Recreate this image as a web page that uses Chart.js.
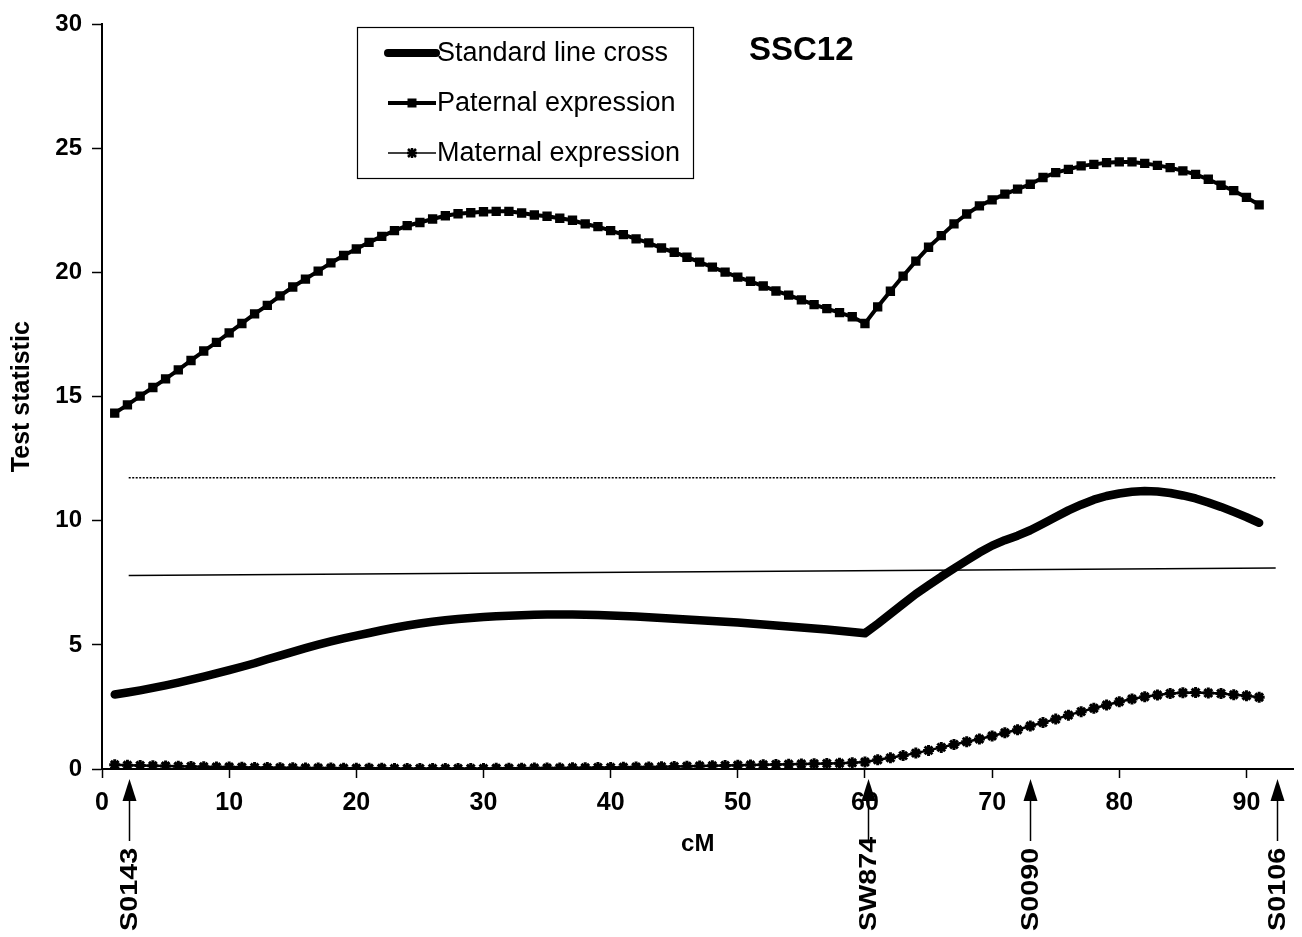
<!DOCTYPE html>
<html>
<head>
<meta charset="utf-8">
<script src="https://cdn.jsdelivr.net/npm/chart.js@4.4.1/dist/chart.umd.min.js"></script>
<style>
  html, body { margin: 0; padding: 0; background: #fff; }
  canvas { display: block; }
</style>
</head>
<body>
<canvas id="qtl" width="1302" height="937"></canvas>
<script>
// positions along the chromosome (cM)
var cM = [1,2,3,4,5,6,7,8,9,10,11,12,13,14,15,16,17,18,19,20,
  21,22,23,24,25,26,27,28,29,30,31,32,33,34,35,36,37,38,39,40,
  41,42,43,44,45,46,47,48,49,50,51,52,53,54,55,56,57,58,59,60,
  61,62,63,64,65,66,67,68,69,70,71,72,73,74,75,76,77,78,79,80,
  81,82,83,84,85,86,87,88,89,90,91];

var standardLineCross = [3.00,3.08,3.17,3.27,3.37,3.48,3.60,3.72,3.85,3.98,
  4.12,4.26,4.42,4.57,4.72,4.87,5.01,5.14,5.26,5.37,
  5.48,5.59,5.69,5.78,5.86,5.93,5.99,6.04,6.08,6.12,
  6.15,6.17,6.19,6.21,6.22,6.22,6.22,6.21,6.20,6.18,
  6.16,6.14,6.11,6.08,6.05,6.02,5.99,5.96,5.93,5.90,
  5.86,5.82,5.78,5.74,5.70,5.66,5.62,5.57,5.52,5.47,
  5.85,6.25,6.65,7.05,7.40,7.75,8.08,8.40,8.72,9.00,
  9.22,9.40,9.62,9.88,10.15,10.42,10.65,10.85,11.00,11.10,
  11.17,11.20,11.18,11.12,11.02,10.90,10.74,10.56,10.36,10.15,9.92];

var paternal = [14.34,14.67,15.02,15.37,15.72,16.08,16.46,16.84,17.19,17.57,
  17.95,18.34,18.68,19.06,19.42,19.74,20.06,20.39,20.69,20.95,
  21.22,21.46,21.69,21.89,22.02,22.16,22.29,22.37,22.41,22.45,
  22.47,22.47,22.40,22.32,22.27,22.19,22.11,21.96,21.85,21.69,
  21.53,21.36,21.20,20.99,20.82,20.62,20.42,20.22,20.02,19.82,
  19.65,19.46,19.26,19.09,18.90,18.71,18.55,18.39,18.22,17.95,
  18.62,19.25,19.86,20.46,21.02,21.49,21.96,22.36,22.69,22.93,
  23.16,23.36,23.56,23.83,24.03,24.16,24.30,24.36,24.43,24.46,
  24.46,24.40,24.32,24.23,24.10,23.96,23.76,23.52,23.30,23.03,22.73];

var maternal = [0.17,0.15,0.14,0.13,0.12,0.11,0.10,0.09,0.08,0.08,
  0.07,0.06,0.06,0.05,0.05,0.04,0.04,0.04,0.03,0.03,
  0.03,0.03,0.02,0.02,0.02,0.02,0.02,0.02,0.02,0.02,
  0.03,0.03,0.03,0.04,0.04,0.04,0.05,0.05,0.06,0.06,
  0.07,0.08,0.08,0.09,0.10,0.11,0.12,0.13,0.14,0.15,
  0.16,0.17,0.18,0.19,0.20,0.21,0.22,0.23,0.25,0.28,
  0.37,0.45,0.54,0.64,0.75,0.87,0.99,1.10,1.21,1.33,
  1.46,1.58,1.73,1.87,2.01,2.17,2.31,2.45,2.58,2.71,
  2.82,2.91,2.98,3.04,3.07,3.08,3.06,3.04,2.99,2.95,2.89];

// significance thresholds, from first to last marker
var thresholdX = [2.1, 92.3];
var threshold5 = [7.8, 8.1];
var threshold1 = [11.73, 11.73];

// markers on the chromosome
var markerNames = ["S0143", "SW874", "S0090", "S0106"];
var markerPos = [2.1, 60.2, 73.0, 92.4];

var xTicks = [0, 10, 20, 30, 40, 50, 60, 70, 80, 90];
var yTicks = [0, 5, 10, 15, 20, 25, 30];

var legendLabels = ["Standard line cross", "Paternal expression", "Maternal expression"];
var chartTitle = "SSC12";

var FONT = "'Liberation Sans', Arial, Helvetica, sans-serif";

function pts(xs, ys) {
  return xs.map(function (x, i) { return { x: x, y: ys[i] }; });
}

// legend, title and marker arrows
var extras = {
  id: "extras",
  afterDraw: function (chart) {
    var ctx = chart.ctx;
    var xs = chart.scales.x;
    ctx.save();

    // legend box
    ctx.strokeStyle = "#000";
    ctx.lineWidth = 1.2;
    ctx.strokeRect(357.5, 27.5, 336, 151);
    var rows = [53, 103, 153];
    var x0 = 388, x1 = 436;
    ctx.lineCap = "round";
    ctx.lineWidth = 8;
    ctx.beginPath(); ctx.moveTo(x0, rows[0]); ctx.lineTo(x1, rows[0]); ctx.stroke();
    ctx.lineCap = "butt";
    ctx.lineWidth = 4;
    ctx.beginPath(); ctx.moveTo(x0, rows[1]); ctx.lineTo(x1, rows[1]); ctx.stroke();
    ctx.fillStyle = "#000";
    ctx.fillRect((x0 + x1) / 2 - 4.5, rows[1] - 4.5, 9, 9);
    ctx.lineWidth = 1.5;
    ctx.beginPath(); ctx.moveTo(x0, rows[2]); ctx.lineTo(x1, rows[2]); ctx.stroke();
    var cx = (x0 + x1) / 2, cy = rows[2];
    ctx.lineWidth = 2.5;
    ctx.beginPath();
    ctx.moveTo(cx - 4, cy - 4); ctx.lineTo(cx + 4, cy + 4);
    ctx.moveTo(cx - 4, cy + 4); ctx.lineTo(cx + 4, cy - 4);
    ctx.moveTo(cx, cy - 5); ctx.lineTo(cx, cy + 5);
    ctx.moveTo(cx - 5, cy); ctx.lineTo(cx + 5, cy);
    ctx.stroke();

    ctx.font = "27px " + FONT;
    ctx.textBaseline = "middle";
    ctx.textAlign = "left";
    legendLabels.forEach(function (t, i) { ctx.fillText(t, x1 + 1, rows[i] + 1); });

    ctx.font = "bold 33px " + FONT;
    ctx.fillText(chartTitle, 749, 51);

    // marker arrows below the x axis
    markerNames.forEach(function (name, i) {
      var px = Math.round(xs.getPixelForValue(markerPos[i])) + 0.5;
      ctx.beginPath();
      ctx.moveTo(px, 779);
      ctx.lineTo(px - 7, 801);
      ctx.lineTo(px + 7, 801);
      ctx.closePath();
      ctx.fill();
      ctx.lineWidth = 1.5;
      ctx.beginPath(); ctx.moveTo(px, 800); ctx.lineTo(px, 841); ctx.stroke();
      ctx.save();
      ctx.translate(px, 931);
      ctx.rotate(-Math.PI / 2);
      ctx.scale(1.25, 1);
      ctx.font = "bold 23px " + FONT;
      ctx.textAlign = "left";
      ctx.textBaseline = "middle";
      ctx.fillText(name, 0, 1);
      ctx.restore();
    });
    ctx.restore();
  }
};

new Chart(document.getElementById("qtl"), {
  type: "line",
  data: {
    datasets: [
      {
        label: "1% threshold",
        data: pts(thresholdX, threshold1),
        borderColor: "#000",
        borderWidth: 1.5,
        borderDash: [2, 1.5],
        pointRadius: 0
      },
      {
        label: "5% threshold",
        data: pts(thresholdX, threshold5),
        borderColor: "#000",
        borderWidth: 1.5,
        pointRadius: 0
      },
      {
        label: legendLabels[0],
        data: pts(cM, standardLineCross),
        borderColor: "#000",
        borderWidth: 8.5,
        borderCapStyle: "round",
        borderJoinStyle: "round",
        pointRadius: 0
      },
      {
        label: legendLabels[1],
        data: pts(cM, paternal),
        borderColor: "#000",
        borderWidth: 4,
        pointStyle: "rect",
        pointRadius: 6.6,
        pointBackgroundColor: "#000",
        pointBorderColor: "#000",
        pointBorderWidth: 0
      },
      {
        label: legendLabels[2],
        data: pts(cM, maternal),
        borderColor: "#000",
        borderWidth: 2.5,
        pointStyle: "star",
        pointRadius: 5.5,
        pointBackgroundColor: "#000",
        pointBorderColor: "#000",
        pointBorderWidth: 3
      }
    ]
  },
  options: {
    responsive: false,
    animation: false,
    events: [],
    layout: { padding: { top: 21, right: 0, left: 0, bottom: 0 } },
    plugins: { legend: { display: false }, tooltip: { enabled: false } },
    scales: {
      x: {
        type: "linear",
        min: 0,
        max: 93.7,
        afterBuildTicks: function (s) { s.ticks = xTicks.map(function (v) { return { value: v }; }); },
        afterFit: function (s) { s.height = 168; },
        ticks: { color: "#000", font: { family: FONT, size: 25, weight: "bold" }, padding: 10, maxRotation: 0, autoSkip: false },
        grid: { display: true, drawOnChartArea: false, drawTicks: true, tickLength: 9, tickColor: "#000", tickWidth: 1.5 },
        border: { color: "#000", width: 2 },
        title: { display: true, text: "cM", color: "#000", font: { family: FONT, size: 24, weight: "bold" }, padding: { top: 0, bottom: 78 } }
      },
      y: {
        min: 0,
        max: 30,
        afterBuildTicks: function (s) { s.ticks = yTicks.map(function (v) { return { value: v }; }); },
        afterFit: function (s) { s.width = 102; },
        ticks: { color: "#000", font: { family: FONT, size: 24, weight: "bold" }, padding: 10 },
        grid: { display: true, drawOnChartArea: false, drawTicks: true, tickLength: 10, tickColor: "#000", tickWidth: 1.5 },
        border: { color: "#000", width: 2 },
        title: { display: true, text: "Test statistic", color: "#000", font: { family: FONT, size: 25, weight: "bold" }, padding: { top: 7, bottom: 0 } }
      }
    }
  },
  plugins: [extras]
});
</script>
</body>
</html>
